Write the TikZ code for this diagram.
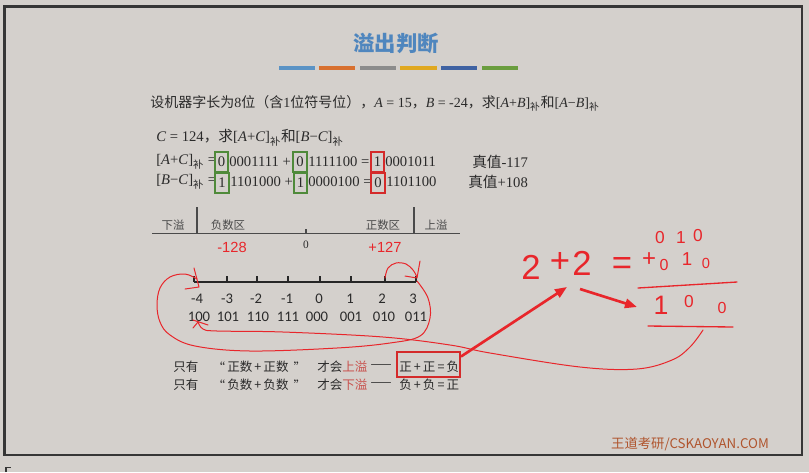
\documentclass[tikz,border=0pt]{standalone}
\usepackage{fontspec}
\setmainfont{Liberation Serif}
\newfontfamily\cjk{Noto Sans CJK SC}
\newfontfamily\carl{Carlito}
\newfontfamily\lsans{Liberation Sans}
\usetikzlibrary{arrows.meta}
\definecolor{bg}{HTML}{D4D0CC}
\definecolor{frame}{HTML}{363636}
\definecolor{titlec}{HTML}{4F86BE}
\definecolor{txtc}{HTML}{2A2A2A}
\definecolor{boxg}{HTML}{4F8A3A}
\definecolor{boxr}{HTML}{D42A2A}
\definecolor{hand}{HTML}{E8262B}
\definecolor{ovc}{HTML}{C8504C}
\definecolor{wmc}{HTML}{B0552E}
\definecolor{barA}{HTML}{5B93C5}
\definecolor{barB}{HTML}{D8702F}
\definecolor{barC}{HTML}{8C8C8C}
\definecolor{barD}{HTML}{E0A820}
\definecolor{barE}{HTML}{3F62A2}
\definecolor{barF}{HTML}{6A9D3E}
\definecolor{axc}{HTML}{4A4A4A}
\tikzset{
  txt/.style={inner sep=0pt, anchor=west, text=txtc, font=\fontsize{11}{13}\selectfont},
  gbox/.style={draw=boxg, line width=1.5pt, inner sep=0pt, minimum width=9.9pt, minimum height=14.5pt, text=txtc, font=\fontsize{11}{13}\selectfont},
  rbox/.style={gbox, draw=boxr},
  zone/.style={inner sep=0pt, text=axc, font=\cjk\fontsize{8.6}{10}\selectfont},
  redlab/.style={inner sep=0pt, text=hand, font=\lsans\fontsize{11}{13}\selectfont},
  nlab/.style={inner sep=0pt, text=txtc, font=\carl\fontsize{11}{13}\selectfont},
  btxt/.style={inner sep=0pt, text=txtc, font=\cjk\fontsize{9.4}{12}\selectfont},
  hw/.style={draw=hand, line width=0.75pt, line cap=round, line join=round},
  hwarrow/.style={draw=hand, line width=2pt, -{Triangle[length=9pt,width=7pt]}},
  hnum/.style={inner sep=0pt, text=hand, font=\lsans\fontsize{26}{28}\selectfont},
  bar/.style={line width=3pt}
}
\begin{document}
\begin{tikzpicture}[x=0.75pt,y=-0.75pt]
\useasboundingbox (0,0) rectangle (809,472);
\fill[bg] (0,0) rectangle (809,472);
\draw[frame, line width=1.6pt] (4.5,6.5) rectangle (802,455);
\draw[frame, line width=1pt] (6,472) -- (6,467.5) -- (11,467.5);

% title
\node[inner sep=0pt, text=titlec, font=\cjk\bfseries\fontsize{16}{18}\selectfont] (title) at (396,43) {溢出判断};
\draw[bar, barA] (279,68) -- (315,68);
\draw[bar, barB] (319,68) -- (355,68);
\draw[bar, barC] (360,68) -- (396,68);
\draw[bar, barD] (400,68) -- (437,68);
\draw[bar, barE] (441,68) -- (477,68);
\draw[bar, barF] (482,68) -- (518,68);

% statement lines
\node[txt, font=\fontsize{10.5}{13}\selectfont] (l1) at (150,103) {{\cjk 设机器字长为}8{\cjk 位（含}1{\cjk 位符号位），}\textit{A} = 15{\cjk ，}\textit{B} = -24{\cjk ，求}[\textit{A}+\textit{B}]\textsubscript{\cjk 补}{\cjk 和}[\textit{A}−\textit{B}]\textsubscript{\cjk 补}};
\node[txt] (l2) at (156,138) {\textit{C} = 124{\cjk ，求}[\textit{A}+\textit{C}]\textsubscript{\cjk 补}{\cjk 和}[\textit{B}−\textit{C}]\textsubscript{\cjk 补}};

% row 1
\node[txt] (r1a) at (156,162) {[\textit{A}+\textit{C}]\textsubscript{\cjk 补} =};
\node[gbox] (r1b) at (221.5,162) {0};
\node[txt] (r1c) at (229,162) {0001111 +};
\node[gbox] (r1d) at (300,162) {0};
\node[txt] (r1e) at (308,162) {1111100 =};
\node[rbox] (r1f) at (377.5,162) {1};
\node[txt] (r1g) at (385,162) {0001011};
\node[txt] (r1h) at (472,162) {{\cjk 真值}-117};
% row 2
\node[txt] (r2a) at (156,182) {[\textit{B}−\textit{C}]\textsubscript{\cjk 补} =};
\node[gbox] (r2b) at (222,183) {1};
\node[txt] (r2c) at (230,182) {1101000 +};
\node[gbox] (r2d) at (300.5,183) {1};
\node[txt] (r2e) at (308,182) {0000100 =};
\node[rbox] (r2f) at (378,183) {0};
\node[txt] (r2g) at (386,182) {1101100};
\node[txt] (r2h) at (468,182) {{\cjk 真值}+108};

% number line 1
\draw[axc, line width=1.2pt] (152,233.5) -- (460,233.5);
\draw[axc, line width=1.2pt] (197,207) -- (197,234);
\draw[axc, line width=1.2pt] (414,207) -- (414,234);
\draw[axc, line width=1pt] (306,229) -- (306,234);
\node[zone] (z1) at (173,225) {下溢};
\node[zone] (z2) at (228,225) {负数区};
\node[zone] (z3) at (383,225) {正数区};
\node[zone] (z4) at (436,225) {上溢};
\node[redlab] (m128) at (232,247) {-128};
\node[inner sep=0pt, text=txtc, font=\fontsize{8.5}{10}\selectfont] (zero) at (306,245) {0};
\node[redlab] (p127) at (385,247) {+127};

% number line 2
\draw[black!85, line width=1.5pt] (194,282) -- (416,282);
\foreach \x in {194,227,257,288,320,351,385,416}
  \draw[black!85, line width=1.2pt] (\x,276) -- (\x,282);
\foreach \x/\t in {197/-4,227/-3,256/-2,287/-1,319/0,350/1,382/2,413/3}
  \node[nlab] at (\x,299) {\t};
\foreach \x/\t in {199/100,228/101,258/110,288/111,317/000,351/001,384/010,416/011}
  \node[nlab] at (\x,317) {\t};

% bottom statements
\foreach \y/\a/\b/\c/\d/\e in {367/正/上/正/正/负, 385/负/下/负/负/正}{
  \node[btxt, anchor=west] at (173,\y) {只有};
  \node[btxt] at (219,\y) {“};
  \node[btxt, anchor=west] at (227,\y) {\a 数\,+\,\a 数};
  \node[btxt] at (300,\y) {”};
  \node[btxt, anchor=west] at (317,\y) {才会{\color{ovc}\b 溢}};
  \node[btxt] at (381,\y) {——};
}
\node[btxt, anchor=west] (res1) at (399,367) {正\,+\,正\,=\,负};
\node[btxt, anchor=west] (res2) at (399,385) {负\,+\,负\,=\,正};
\node[draw=boxr, line width=1.5pt, inner sep=0pt, minimum width=47.25pt, minimum height=18.75pt] (rbx) at (428.5,364.5) {};

% watermark
\node[inner sep=0pt, text=wmc, font=\cjk\fontsize{10}{11}\selectfont] (wm) at (690,444) {王道考研/CSKAOYAN.COM};

% handwritten annotations
\draw[hw] plot[smooth, tension=0.6] coordinates {(197,279) (185,274) (170,277) (160,288) (157,305) (160,322) (170,335) (195,346) (250,351) (337,348) (390,343) (420,336) (430,318) (428,298) (417,281)};
\draw[hw] (194,268) -- (199,287) -- (185,289);
\draw[hw] plot[smooth, tension=0.6] coordinates {(385,278) (388,268) (396,263) (406,264) (413,270) (417,277)};
\draw[hw] (405,276) -- (417,278) -- (420,261);
\draw[hw] plot[smooth, tension=0.6] coordinates {(198,322) (203,329) (217,331) (283,332) (383,337) (450,345) (490,353) (580,367) (637,369) (672,360) (690,347) (703,330)};
\draw[hw] (193,320) -- (208,325);
\draw[hw] (198,322) -- (193,328);

\coordinate (a1s) at ([yshift=6pt]rbx.east);
\coordinate (a1e) at (567,287);
\coordinate (a2s) at (580,289);
\coordinate (a2e) at (637,307);
\draw[hwarrow] (a1s) -- (a1e);
\draw[hwarrow] (a2s) -- (a2e);

\node[hnum] (h1) at (531,267) {2};
\node[hnum] (h2) at (560,262) {+};
\node[hnum] (h3) at (582,263) {2};
\node[hnum] (h4) at (622,266) {=};
\node[inner sep=0pt, text=hand, font=\lsans\fontsize{13}{14}\selectfont] at (660,238) {0};
\node[inner sep=0pt, text=hand, font=\lsans\fontsize{13}{14}\selectfont] at (681,238) {1};
\node[inner sep=0pt, text=hand, font=\lsans\fontsize{13}{14}\selectfont] at (698,236) {0};
\node[inner sep=0pt, text=hand, font=\lsans\fontsize{18}{20}\selectfont] at (649,260) {+};
\node[inner sep=0pt, text=hand, font=\lsans\fontsize{12}{14}\selectfont] at (664,265) {0};
\node[inner sep=0pt, text=hand, font=\lsans\fontsize{14}{16}\selectfont] at (687,259) {1};
\node[inner sep=0pt, text=hand, font=\lsans\fontsize{11}{12}\selectfont] at (706,263) {0};
\draw[hw, line width=1pt] (638,288) -- (737,282);
\node[inner sep=0pt, text=hand, font=\lsans\fontsize{20}{22}\selectfont] at (661,305) {1};
\node[inner sep=0pt, text=hand, font=\lsans\fontsize{13}{14}\selectfont] at (689,302) {0};
\node[inner sep=0pt, text=hand, font=\lsans\fontsize{12}{14}\selectfont] at (722,308) {0};
\draw[hw, line width=1pt] (648,326) -- (733,327);
\end{tikzpicture}
\end{document}
